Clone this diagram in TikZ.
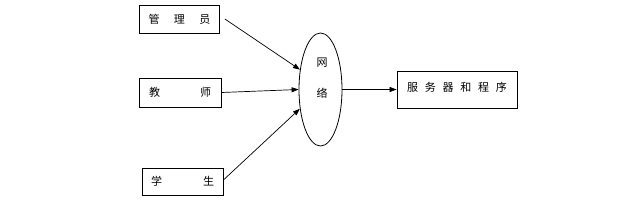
\documentclass[tikz,border=0pt]{standalone}
\usepackage{fontspec}
\setmainfont{Noto Sans CJK SC}
\usetikzlibrary{shapes,arrows.meta,positioning}

\tikzset{
    userbox/.style={draw,black,line width=0.8pt,minimum width=80pt,minimum height=28pt,inner sep=0pt},
    link/.style={black,line width=0.7pt,-{Triangle[length=7pt,width=5pt]}}
}

\begin{document}
\begin{tikzpicture}[x=1pt,y=-1pt,font=\fontsize{11}{13}\selectfont]

    \useasboundingbox (0,0) rectangle (629,212);

    % users
    \node[userbox] (adm) at (179.5,19) {\makebox[62pt][s]{管\hfill 理\hfill 员}};
    \node[userbox,minimum width=82pt,minimum height=29pt] (tea) at (180,92.5) {\makebox[62pt][s]{教\hfill 师}};
    \node[userbox,minimum width=81pt,minimum height=27pt] (stu) at (182.5,181.5) {\makebox[63pt][s]{学\hfill 生}};

    % network
    \node[draw,ellipse,line width=0.8pt,minimum width=43pt,minimum height=113pt,inner sep=0pt] (net) at (320.5,89.5) {};
    \node[align=center,inner sep=0pt] (netlbl) at (322,78.5) {网\\[18pt]络};

    % server
    \node[userbox,minimum width=120pt,minimum height=37pt] (srv) at (457,89.5) {\raisebox{5pt}{\makebox[100pt][s]{服\hfill 务\hfill 器\hfill 和\hfill 程\hfill 序}}};

    \draw[link] ([xshift=5pt]adm.east) -- (net.136);
    \draw[link] (tea.east) -- (net.west);
    \draw[link] ([yshift=1.5pt]stu.east) -- (net.223);
    \draw[link] (net.east) -- (srv.west);

\end{tikzpicture}
\end{document}
